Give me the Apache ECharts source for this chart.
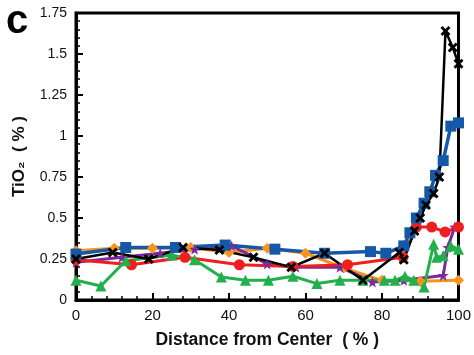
<!DOCTYPE html>
<html>
<head>
<meta charset="utf-8">
<script src="https://cdn.jsdelivr.net/npm/echarts@6/dist/echarts.min.js"></script>
<style>
  html, body { margin: 0; padding: 0; background: #fff; }
  #chart { width: 474px; height: 355px; }
</style>
</head>
<body>
<div id="chart"></div>
<script>
// tick labels
const xTicks = [0, 20, 40, 60, 80, 100]
const yTicks = [0, 0.25, 0.5, 0.75, 1, 1.25, 1.5, 1.75]

// [distance %, TiO2 %]
const orangeDiamonds = [[0,0.30],[10,0.315],[20,0.315],[30,0.32],[40,0.29],[50,0.315],[60,0.285],[70,0.195],[80,0.12],[90,0.115],[100,0.12]]
const purpleStars = [[0,0.23],[12,0.26],[22,0.285],[31,0.31],[40.7,0.33],[50,0.22],[57.5,0.20],[69,0.20],[77.5,0.11],[85.7,0.12],[96,0.15],[97.2,0.32],[99,0.445]]
const redCircles = [[0,0.245],[14.5,0.215],[28.5,0.26],[42.7,0.215],[56.7,0.205],[71,0.215],[85.5,0.26],[89,0.445],[93,0.445],[96.5,0.415],[100,0.445]]
const greenTriangles = [[0,0.12],[6.5,0.085],[13,0.24],[25,0.275],[31,0.245],[38,0.14],[44.3,0.12],[50.3,0.12],[56.7,0.145],[63,0.10],[69,0.12],[75,0.12],[80.6,0.12],[83.4,0.12],[86,0.145],[88.3,0.12],[91,0.08],[93.5,0.34],[94.3,0.26],[96,0.27],[98,0.33],[100,0.31]]
const blueSquares = [[0,0.28],[13,0.32],[26,0.32],[39,0.335],[52,0.31],[65,0.285],[77,0.295],[81,0.285],[85.7,0.33],[87.3,0.41],[89,0.50],[91,0.59],[92.5,0.66],[94,0.76],[96,0.85],[98,1.06],[100,1.08]]
const blackCrosses = [[0,0.25],[9.6,0.29],[19,0.25],[28,0.32],[37.5,0.305],[46.4,0.26],[56.3,0.20],[65,0.285],[75,0.12],[84.5,0.29],[85.7,0.245],[88.5,0.42],[90,0.50],[91.5,0.58],[93.5,0.65],[95,0.75],[96.6,1.64],[98.5,1.54],[100,1.44]]

const STAR = 'path://M5,0L6.2,3.5L10,3.6L7,5.9L8.1,9.5L5,7.4L1.9,9.5L3,5.9L0,3.6L3.8,3.5Z'
const CROSS = 'path://M0,2L2,0L5,3L8,0L10,2L7,5L10,8L8,10L5,7L2,10L0,8L3,5Z'

function line (data, color, symbol, size, width) {
  return {
    type: 'line',
    data: data,
    symbol: symbol,
    symbolSize: size,
    showAllSymbol: true,
    lineStyle: { color: color, width: width || 3 },
    itemStyle: { color: color },
    animation: false
  }
}

let chart = echarts.init(document.getElementById('chart'))
chart.setOption({
  backgroundColor: '#fff',
  textStyle: { fontFamily: 'Liberation Sans, Arial, sans-serif' },
  grid: { left: 76, right: 12, top: 13, bottom: 55, show: true, borderColor: '#000', borderWidth: 3 },
  graphic: [{
    type: 'text', left: 6, top: 2,
    style: { text: 'c', font: 'bold 40px Liberation Sans, Arial, sans-serif', fill: '#000' }
  }],
  xAxis: {
    type: 'value', min: 0, max: 100, interval: 20,
    name: 'Distance from Center  ( % )', nameLocation: 'middle', nameGap: 31,
    nameTextStyle: { fontSize: 17.5, fontWeight: 'bold', color: '#111' },
    axisLine: { lineStyle: { color: '#000', width: 3 } },
    axisTick: { inside: true, length: 7, lineStyle: { color: '#000', width: 2 } },
    minorTick: { show: true, splitNumber: 5, length: 4, lineStyle: { color: '#000', width: 1.5 } },
    axisLabel: { fontSize: 15, color: '#111', margin: 8,
      formatter: v => xTicks.includes(v) ? String(v) : '' },
    splitLine: { show: false }
  },
  yAxis: {
    type: 'value', min: 0, max: 1.75, interval: 0.25,
    name: 'TiO₂  ( % )', nameLocation: 'middle', nameGap: 48,
    nameTextStyle: { fontSize: 17, fontWeight: 'bold', color: '#111' },
    axisLine: { lineStyle: { color: '#000', width: 3 } },
    axisTick: { inside: true, length: 7, lineStyle: { color: '#000', width: 2 } },
    minorTick: { show: true, splitNumber: 5, length: 4, lineStyle: { color: '#000', width: 1.5 } },
    axisLabel: { fontSize: 14, color: '#111', margin: 9,
      formatter: v => yTicks.includes(v) ? String(v) : '' },
    splitLine: { show: false }
  },
  series: [
    line(orangeDiamonds, '#f7941d', 'diamond', 11),
    line(purpleStars, '#7b2a9c', STAR, 11),
    line(redCircles, '#f01e1e', 'circle', 11),
    line(greenTriangles, '#22b04a', 'triangle', 11),
    line(blueSquares, '#1658a8', 'rect', 11, 3.5),
    line(blackCrosses, '#000', CROSS, 10, 2.5)
  ]
})
window.addEventListener('resize', () => chart.resize())
</script>
</body>
</html>
